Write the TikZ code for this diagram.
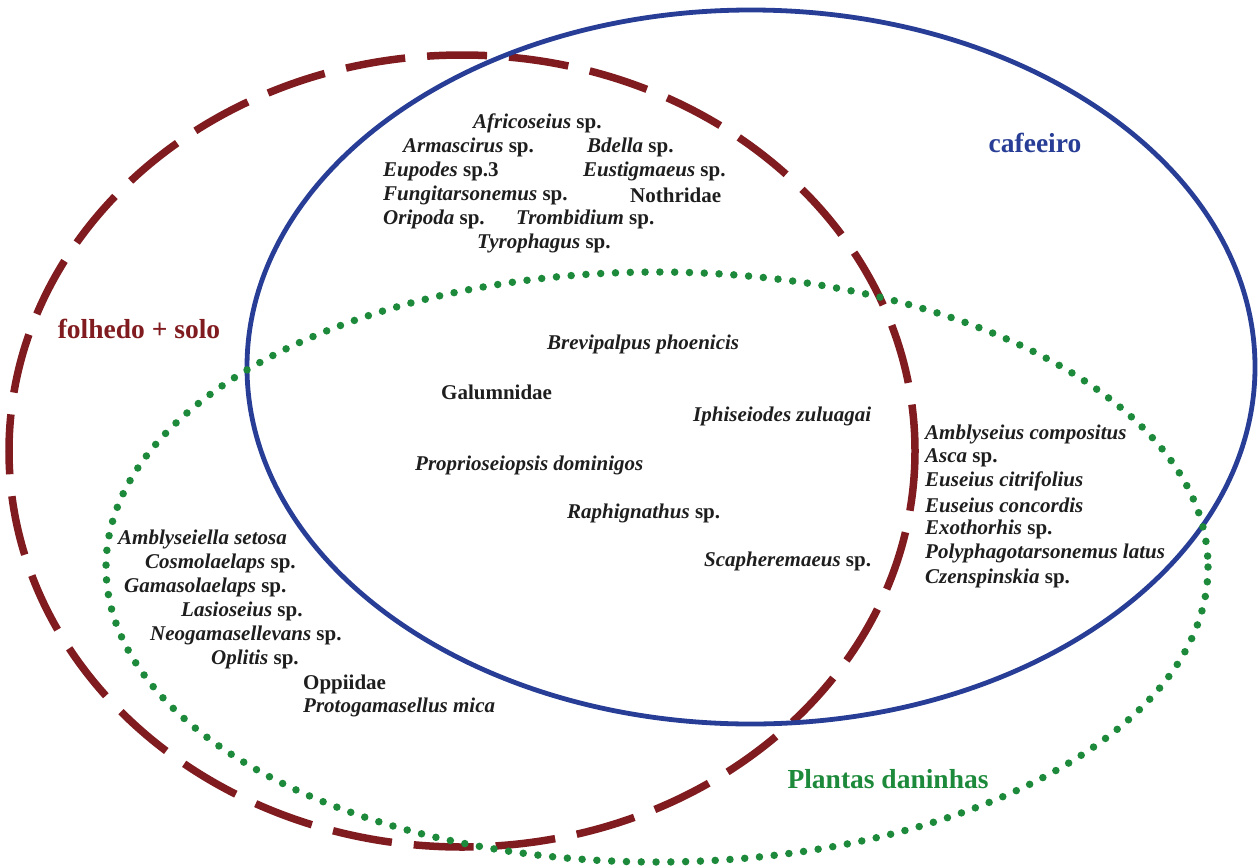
\documentclass[tikz,border=0pt]{standalone}
\usepackage{fontspec}
\setmainfont{Liberation Serif}
\definecolor{cafe}{RGB}{40,62,150}
\definecolor{folha}{RGB}{128,28,32}
\definecolor{planta}{RGB}{28,138,58}
\definecolor{texto}{RGB}{30,30,30}

\begin{document}
\begin{tikzpicture}[x=1pt,y=-1pt,
	sp/.style={anchor=west,inner sep=0pt,text=texto,font=\fontsize{21}{24}\selectfont\bfseries},
	lab/.style={inner sep=0pt,font=\fontsize{27.5}{30}\selectfont\bfseries}]
		\useasboundingbox (0,0) rectangle (1260,865);
		\draw[folha,line width=7.5pt,dash pattern=on 60pt off 22pt] (462,451) ellipse [x radius=453,y radius=396];
		\draw[cafe,line width=4.8pt] (751,367) ellipse [x radius=504,y radius=357];
		\draw[planta,line width=7.5pt,line cap=round,dash pattern=on 0pt off 14.8pt] (657,567) ellipse [x radius=551,y radius=295];
		\node[lab,text=cafe] (lcafe) at (1035,143) {cafeeiro};
		\node[lab,text=folha] (lfolha) at (139,329) {folhedo + solo};
		\node[lab,text=planta] (lplanta) at (888,779) {Plantas daninhas};
		\node[sp] (afr) at (473,123) {\textit{Africoseius} sp.};
		\node[sp] (arm) at (403,147) {\textit{Armascirus} sp.};
		\node[sp] (bde) at (587,147) {\textit{Bdella} sp.};
		\node[sp] (eup) at (383,171) {\textit{Eupodes} sp.3};
		\node[sp] (eus) at (583,171) {\textit{Eustigmaeus} sp.};
		\node[sp] (fun) at (383,195) {\textit{Fungitarsonemus} sp.};
		\node[sp] (not) at (630,195) {Nothridae};
		\node[sp] (ori) at (383,219) {\textit{Oripoda} sp.};
		\node[sp] (tro) at (516,219) {\textit{Trombidium} sp.};
		\node[sp] (tyr) at (477,243) {\textit{Tyrophagus} sp.};
		\node[sp] (bre) at (547,344) {\textit{Brevipalpus phoenicis}};
		\node[sp] (gal) at (441,392) {Galumnidae};
		\node[sp] (iph) at (693,416) {\textit{Iphiseiodes zuluagai}};
		\node[sp] (pro) at (415,465) {\textit{Proprioseiopsis dominigos}};
		\node[sp] (rap) at (567,513) {\textit{Raphignathus} sp.};
		\node[sp] (sca) at (704,561) {\textit{Scapheremaeus} sp.};
		\node[sp] (amc) at (925,434) {\textit{Amblyseius compositus}};
		\node[sp] (asc) at (925,458) {\textit{Asca} sp.};
		\node[sp] (eci) at (925,481) {\textit{Euseius citrifolius}};
		\node[sp] (eco) at (925,505) {\textit{Euseius concordis}};
		\node[sp] (exo) at (925,529) {\textit{Exothorhis} sp.};
		\node[sp] (pol) at (925,553) {\textit{Polyphagotarsonemus latus}};
		\node[sp] (cze) at (925,578) {\textit{Czenspinskia} sp.};
		\node[sp] (ams) at (118,539) {\textit{Amblyseiella setosa}};
		\node[sp] (cos) at (145,563) {\textit{Cosmolaelaps} sp.};
		\node[sp] (gam) at (124,587) {\textit{Gamasolaelaps} sp.};
		\node[sp] (las) at (181,611) {\textit{Lasioseius} sp.};
		\node[sp] (neo) at (150,635) {\textit{Neogamasellevans} sp.};
		\node[sp] (opl) at (211,659) {\textit{Oplitis} sp.};
		\node[sp] (opp) at (303,684) {Oppiidae};
		\node[sp] (ptg) at (303,707) {\textit{Protogamasellus mica}};
	\end{tikzpicture}
\end{document}
